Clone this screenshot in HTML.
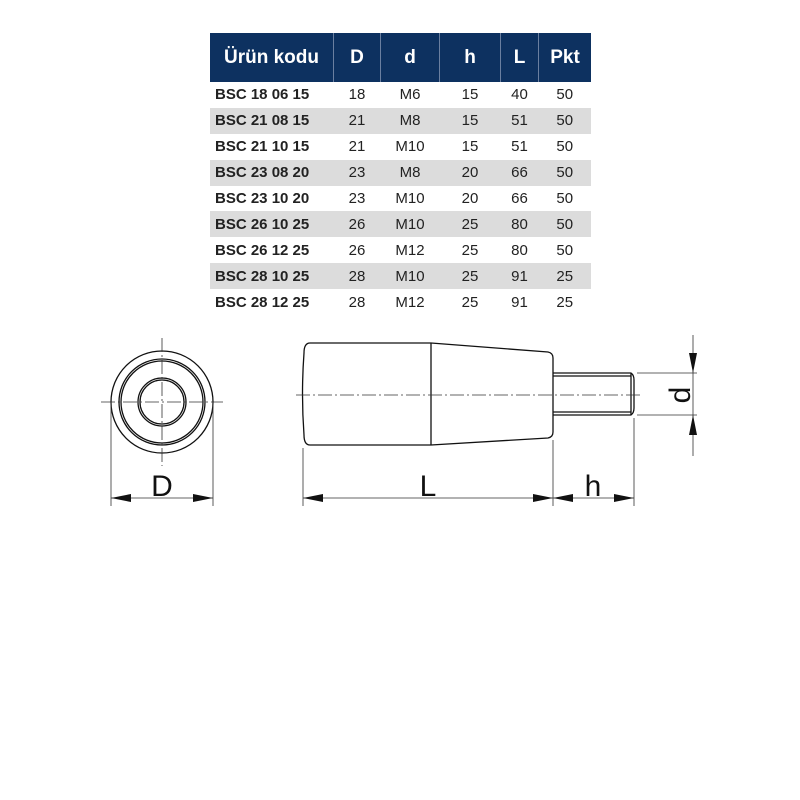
<!DOCTYPE html>
<html><head><style>
body{margin:0;background:#fff;width:800px;height:800px;position:relative;font-family:"Liberation Sans",sans-serif}
table{position:absolute;left:210px;top:33px;border-collapse:collapse;width:381px}
th{background:#0d3160;color:#fff;font-size:19px;height:49px;padding:0;border-left:1px solid #6a7fa0}
th:first-child{border-left:none}
td{height:25.9px;padding:0;font-size:15px;color:#222;text-align:center}
td:first-child{text-align:left;font-weight:bold;padding-left:5px}
tr.g td{background:#dcdcdc}
</style></head><body>
<table>
<tr><th style="width:123px">Ürün kodu</th><th style="width:46px">D</th><th style="width:58px">d</th><th style="width:60px">h</th><th style="width:37px">L</th><th>Pkt</th></tr>
<tr><td>BSC 18 06 15</td><td>18</td><td>M6</td><td>15</td><td>40</td><td>50</td></tr>
<tr class="g"><td>BSC 21 08 15</td><td>21</td><td>M8</td><td>15</td><td>51</td><td>50</td></tr>
<tr><td>BSC 21 10 15</td><td>21</td><td>M10</td><td>15</td><td>51</td><td>50</td></tr>
<tr class="g"><td>BSC 23 08 20</td><td>23</td><td>M8</td><td>20</td><td>66</td><td>50</td></tr>
<tr><td>BSC 23 10 20</td><td>23</td><td>M10</td><td>20</td><td>66</td><td>50</td></tr>
<tr class="g"><td>BSC 26 10 25</td><td>26</td><td>M10</td><td>25</td><td>80</td><td>50</td></tr>
<tr><td>BSC 26 12 25</td><td>26</td><td>M12</td><td>25</td><td>80</td><td>50</td></tr>
<tr class="g"><td>BSC 28 10 25</td><td>28</td><td>M10</td><td>25</td><td>91</td><td>25</td></tr>
<tr><td>BSC 28 12 25</td><td>28</td><td>M12</td><td>25</td><td>91</td><td>25</td></tr>
</table>
<svg width="800" height="800" style="position:absolute;left:0;top:0">
<g fill="none" stroke="#111" stroke-width="1.3">
<circle cx="162" cy="402" r="51"/><circle cx="162" cy="402" r="43"/><circle cx="162" cy="402" r="41"/>
<circle cx="162" cy="402" r="24"/><circle cx="162" cy="402" r="22"/>
<path d="M310 343 L431 343 L548 352 Q553 353 553 358 L553 432 Q553 437 548 438 L431 445 L310 445 Q304 445 304 435 Q301 394 304 353 Q304 343 310 343 Z"/>
<line x1="431" y1="343" x2="431" y2="445"/>
<path d="M553 373 L631 373 Q634 375 634 380 L634 408 Q634 413 631 415 L553 415"/>
<line x1="553" y1="376" x2="631" y2="376"/><line x1="553" y1="412" x2="631" y2="412"/><line x1="631" y1="373" x2="631" y2="415"/>
</g>
<g stroke="#333" stroke-width="0.8" fill="none">
<path d="M101 402H223M162 338V466M296 395H643" stroke-dasharray="14,3,2,3"/>
<path d="M111 402V506M213 402V506M303 448V506M553 440V506M634 418V506M637 373H697M637 415H697M693 335V456M111 498H213M303 498H634"/>
</g>
<g fill="#111">
<path d="M111 498l20-4v8zM213 498l-20-4v8zM303 498l20-4v8zM553 498l-20-4v8zM553 498l20-4v8zM634 498l-20-4v8zM693 373l-4-20h8zM693 415l-4 20h8z"/>
</g>
<g font-family="Liberation Sans,sans-serif" font-size="30" fill="#111" text-anchor="middle">
<text x="162" y="496">D</text><text x="428" y="496">L</text><text x="593" y="496">h</text>
<text transform="translate(690,395) rotate(-90)">d</text>
</g>
</svg>
</body></html>
